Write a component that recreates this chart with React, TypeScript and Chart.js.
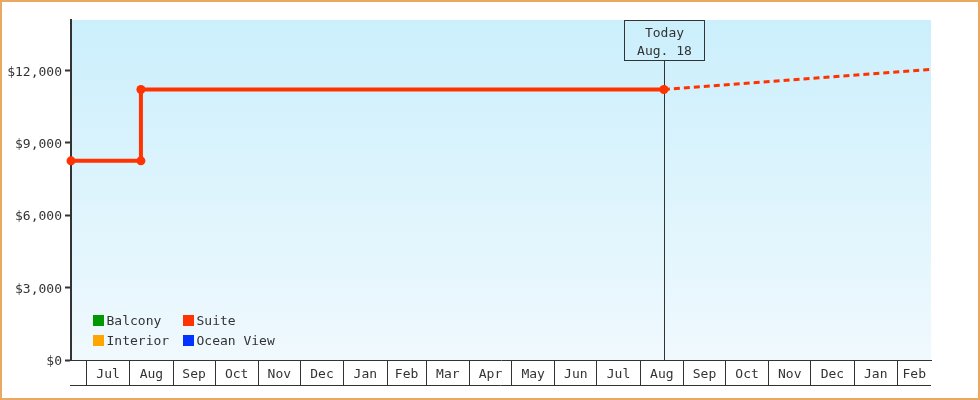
import { useEffect, useRef } from 'react';
import { Chart, registerables } from 'chart.js';

Chart.register(...registerables);

const seriesNames = ['Balcony', 'Suite', 'Interior', 'Ocean View'];
const seriesColors = ['#009900', '#ff3300', '#ffa500', '#0033ff'];

const suiteDates = ['2017-06-20', '2017-08-09', '2017-08-09', '2018-08-18'];
const suitePrices = [8260, 8260, 11220, 11220];

const forecastDates = ['2018-08-18', '2019-02-25'];
const forecastPrices = [11220, 12050];

const monthStarts = [
  '2017-07-01', '2017-08-01', '2017-09-01', '2017-10-01', '2017-11-01', '2017-12-01',
  '2018-01-01', '2018-02-01', '2018-03-01', '2018-04-01', '2018-05-01', '2018-06-01',
  '2018-07-01', '2018-08-01', '2018-09-01', '2018-10-01', '2018-11-01', '2018-12-01',
  '2019-01-01', '2019-02-01',
];
const monthLabels = [
  'Jul', 'Aug', 'Sep', 'Oct', 'Nov', 'Dec',
  'Jan', 'Feb', 'Mar', 'Apr', 'May', 'Jun',
  'Jul', 'Aug', 'Sep', 'Oct', 'Nov', 'Dec',
  'Jan', 'Feb',
];

const yTicks = [0, 3000, 6000, 9000, 12000];
const yMax = 14100;
const xMinDate = '2017-06-20';
const xMaxDate = '2019-02-25';

const todayDate = '2018-08-18';
const todayText = ['Today', 'Aug. 18'];

const FONT = "'DejaVu Sans Mono', monospace";
const INK = '#333333';

function day(s: string): number {
  const [y, m, d] = s.split('-').map(Number);
  return Date.UTC(y, m - 1, d) / 86400000;
}

export default function App() {
  const ref = useRef<HTMLCanvasElement | null>(null);

  useEffect(() => {
    const canvas = ref.current;
    if (!canvas) return;

    const xMin = day(xMinDate);
    const xMax = day(xMaxDate);
    const startVals = monthStarts.map(day);
    const labelMap = new Map<number, string>();
    const tickVals: number[] = [];
    startVals.forEach((v, i) => {
      const next = i + 1 < startVals.length ? startVals[i + 1] : xMax;
      const mid = (v + next) / 2;
      tickVals.push(v);
      tickVals.push(mid);
      labelMap.set(mid, monthLabels[i]);
    });
    const startSet = new Set(startVals);

    const bgPlugin = {
      id: 'bg',
      beforeDraw(chart: any) {
        const { ctx, chartArea: a } = chart;
        const g = ctx.createLinearGradient(0, a.top, 0, a.bottom);
        g.addColorStop(0, '#cbeffc');
        g.addColorStop(1, '#f0f9fe');
        ctx.save();
        ctx.fillStyle = g;
        ctx.fillRect(a.left, a.top, a.right - a.left, a.bottom - a.top);
        ctx.restore();
      },
    };

    const todayPlugin = {
      id: 'today',
      beforeDatasetsDraw(chart: any) {
        const { ctx, chartArea: a } = chart;
        const xs = chart.scales.x;
        const x = Math.round(xs.getPixelForValue(day(todayDate))) + 0.5;
        const top = a.top + 0.5;
        const w = 80;
        const h = 40;
        ctx.save();
        ctx.strokeStyle = INK;
        ctx.lineWidth = 1;
        ctx.strokeRect(x - w / 2, top, w, h);
        ctx.beginPath();
        ctx.moveTo(x, top + h);
        ctx.lineTo(x, a.bottom);
        ctx.stroke();
        ctx.fillStyle = INK;
        ctx.font = `13px ${FONT}`;
        ctx.textAlign = 'center';
        ctx.textBaseline = 'middle';
        ctx.fillText(todayText[0], x, top + 13);
        ctx.fillText(todayText[1], x, top + 31);
        ctx.restore();
      },
    };

    const extrasPlugin = {
      id: 'extras',
      afterDraw(chart: any) {
        const { ctx, chartArea: a } = chart;
        const xs = chart.scales.x;
        ctx.save();
        // bottom line of the month cells
        ctx.strokeStyle = INK;
        ctx.lineWidth = 1;
        const yb = Math.round(xs.bottom) + 0.5;
        ctx.beginPath();
        ctx.moveTo(a.left - 1, yb);
        ctx.lineTo(a.right, yb);
        ctx.stroke();
        // legend inside the plot
        ctx.font = `13px ${FONT}`;
        ctx.textAlign = 'left';
        ctx.textBaseline = 'middle';
        seriesNames.forEach((name, i) => {
          const col = i % 2;
          const row = Math.floor(i / 2);
          const sx = a.left + 22 + col * 90;
          const sy = a.bottom - 45 + row * 20;
          ctx.fillStyle = seriesColors[i];
          ctx.fillRect(sx, sy, 11, 11);
          ctx.fillStyle = INK;
          ctx.fillText(name, sx + 13.5, sy + 7);
        });
        ctx.restore();
      },
    };

    const suiteColor = seriesColors[1];

    const chart = new Chart(canvas, {
      type: 'line',
      data: {
        datasets: [
          {
            label: 'Suite forecast',
            data: forecastDates.map((d, i) => ({ x: day(d), y: forecastPrices[i] })),
            borderColor: suiteColor,
            borderWidth: 3,
            borderDash: [6, 4],
            pointRadius: 0,
            fill: false,
          },
          {
            label: seriesNames[1],
            data: suiteDates.map((d, i) => ({ x: day(d), y: suitePrices[i] })),
            borderColor: suiteColor,
            backgroundColor: suiteColor,
            borderWidth: 4,
            pointRadius: 4.5,
            pointBorderWidth: 0,
            pointBackgroundColor: suiteColor,
            fill: false,
            clip: false as any,
          },
          { label: seriesNames[0], data: [], borderColor: seriesColors[0] },
          { label: seriesNames[2], data: [], borderColor: seriesColors[2] },
          { label: seriesNames[3], data: [], borderColor: seriesColors[3] },
        ],
      },
      options: {
        responsive: false,
        animation: false,
        events: [],
        layout: { padding: { left: 0, top: 20, right: 49, bottom: 15 } },
        plugins: {
          legend: { display: false },
          tooltip: { enabled: false },
        },
        scales: {
          x: {
            type: 'linear',
            min: xMin,
            max: xMax,
            afterBuildTicks: (s: any) => {
              s.ticks = tickVals.map((v) => ({ value: v }));
            },
            afterFit: (s: any) => {
              s.height = 25;
            },
            border: { display: true, color: INK, width: 1 },
            grid: {
              display: true,
              drawOnChartArea: false,
              drawTicks: true,
              tickLength: 25,
              tickWidth: 1,
              tickColor: (c: any) =>
                c.tick && startSet.has(c.tick.value) ? INK : 'rgba(0,0,0,0)',
            },
            ticks: {
              autoSkip: false,
              maxRotation: 0,
              minRotation: 0,
              padding: -18,
              color: INK,
              font: { family: FONT, size: 13 },
              callback: (v: any) => labelMap.get(Number(v)) ?? '',
            },
          },
          y: {
            type: 'linear',
            min: 0,
            max: yMax,
            afterBuildTicks: (s: any) => {
              s.ticks = yTicks.map((v) => ({ value: v }));
            },
            afterFit: (s: any) => {
              s.width = 71;
            },
            border: { display: true, color: INK, width: 2 },
            grid: {
              display: true,
              drawOnChartArea: false,
              drawTicks: true,
              tickLength: 6,
              tickWidth: 2,
              tickColor: INK,
            },
            ticks: {
              padding: 3,
              labelOffset: 1.5,
              color: INK,
              font: { family: FONT, size: 13 },
              callback: (v: any) => '$' + Number(v).toLocaleString('en-US'),
            },
          },
        },
      },
      plugins: [bgPlugin, todayPlugin, extrasPlugin],
    });

    return () => {
      chart.destroy();
    };
  }, []);

  return (
    <div style={{ position: 'absolute', left: 0, top: 0, width: 980, height: 400, background: '#fff' }}>
      <canvas
        ref={ref}
        width={980}
        height={400}
        style={{ position: 'absolute', left: 0, top: 0, width: 980, height: 400, display: 'block' }}
      />
      <div
        style={{
          position: 'absolute',
          left: 0,
          top: 0,
          width: 980,
          height: 400,
          boxSizing: 'border-box',
          border: '2px solid #eaa862',
          pointerEvents: 'none',
        }}
      />
    </div>
  );
}
